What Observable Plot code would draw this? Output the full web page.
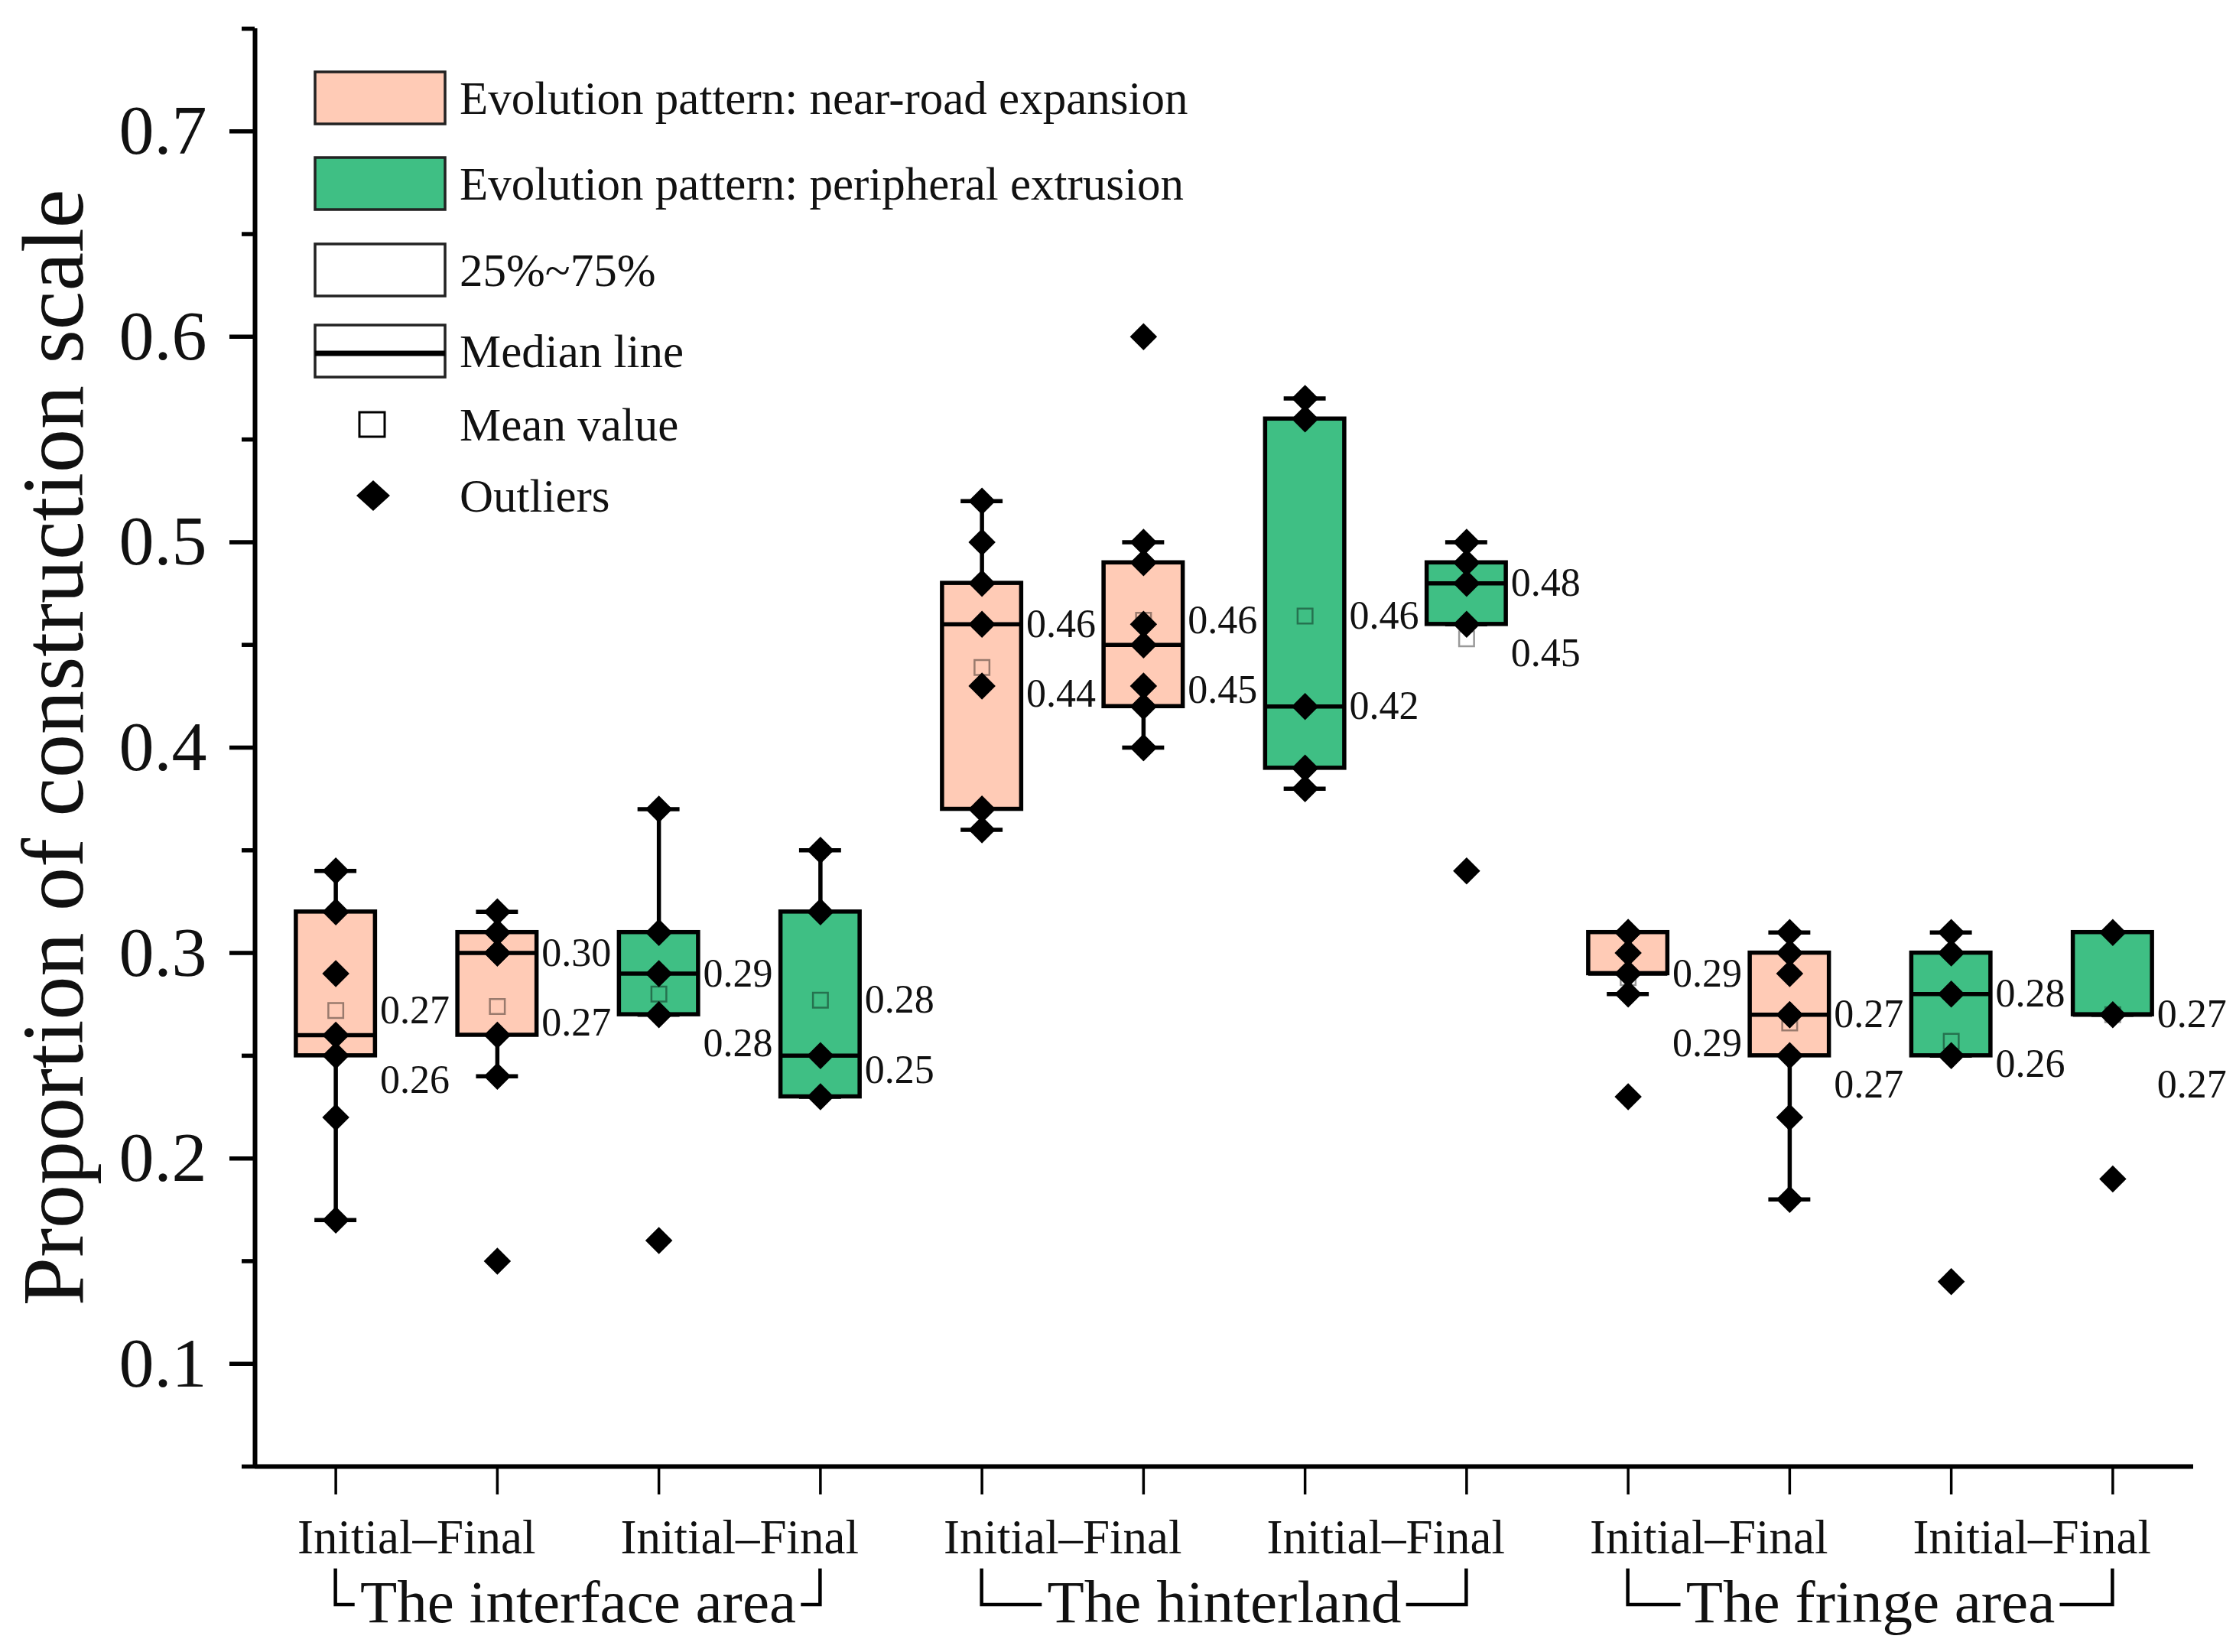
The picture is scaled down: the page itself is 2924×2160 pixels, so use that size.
<!DOCTYPE html>
<html>
<head>
<meta charset="utf-8">
<script src="https://cdn.jsdelivr.net/npm/d3@7"></script>
<script src="https://cdn.jsdelivr.net/npm/@observablehq/plot@0.6"></script>
<style>
  html, body { margin: 0; padding: 0; background: #ffffff; }
  svg { display: block; }
</style>
</head>
<body>
<div id="chart"></div>
<script>
// ---------------- data ----------------
const areaNames = ["The interface area", "The hinterland", "The fringe area"];
const patternNames = ["Evolution pattern: near-road expansion", "Evolution pattern: peripheral extrusion"];
const stageLabel = "Initial\u2013Final";
const boxArea    = [0, 0, 0, 0, 1, 1, 1, 1, 2, 2, 2, 2];
const boxPattern = [0, 0, 1, 1, 0, 0, 1, 1, 0, 0, 1, 1];
const boxStage   = ["Initial", "Final", "Initial", "Final", "Initial", "Final", "Initial", "Final", "Initial", "Final", "Initial", "Final"];

const q1Values      = [0.25, 0.26, 0.27, 0.23, 0.37, 0.42, 0.39, 0.46, 0.29, 0.25, 0.25, 0.27];
const medianValues  = [0.26, 0.30, 0.29, 0.25, 0.46, 0.45, 0.42, 0.48, 0.29, 0.27, 0.28, 0.27];
const q3Values      = [0.32, 0.31, 0.31, 0.32, 0.48, 0.49, 0.56, 0.49, 0.31, 0.30, 0.30, 0.31];
const whiskerLow    = [0.17, 0.24, 0.27, 0.23, 0.36, 0.40, 0.38, 0.46, 0.28, 0.18, 0.25, 0.27];
const whiskerHigh   = [0.34, 0.32, 0.37, 0.35, 0.52, 0.50, 0.57, 0.50, 0.31, 0.31, 0.31, 0.31];
const meanValues    = [0.272, 0.274, 0.280, 0.277, 0.439, 0.462, 0.464, 0.453, 0.288, 0.266, 0.257, 0.270];

const pointValues = [
  [0.34, 0.32, 0.29, 0.26, 0.25, 0.22, 0.17],
  [0.32, 0.31, 0.30, 0.30, 0.26, 0.24, 0.15],
  [0.37, 0.31, 0.29, 0.27, 0.16],
  [0.35, 0.32, 0.25, 0.23],
  [0.52, 0.50, 0.48, 0.46, 0.43, 0.37, 0.37, 0.36],
  [0.60, 0.50, 0.49, 0.46, 0.45, 0.43, 0.42, 0.40, 0.40],
  [0.57, 0.56, 0.42, 0.39, 0.38],
  [0.50, 0.49, 0.48, 0.46, 0.34],
  [0.31, 0.31, 0.30, 0.29, 0.29, 0.28, 0.23],
  [0.31, 0.30, 0.29, 0.27, 0.27, 0.25, 0.22, 0.18],
  [0.31, 0.30, 0.28, 0.25, 0.14],
  [0.31, 0.27, 0.19]
];

const yMajorTicks = [0.1, 0.2, 0.3, 0.4, 0.5, 0.6, 0.7];
const yMinorTicks = [0.05, 0.15, 0.25, 0.35, 0.45, 0.55, 0.65, 0.75];
const yLabel = "Proportion of construction scale";
const legendLabels = ["25%~75%", "Median line", "Mean value", "Outliers"];

// ---------------- styling ----------------
const W = 2924, H = 2160;
const serif = "'Liberation Serif', 'Times New Roman', Times, serif";
const fills = ["#ffcbb6", "#3fbf84"];
const HW = 0.245;   // half box width (x units)
const CAP = 0.13;   // half cap width
const LW = 5.5;

// ---------------- derived tables ----------------
const boxes = q1Values.map((q1, i) => ({
  pos: i + 1,
  pattern: patternNames[boxPattern[i]],
  stage: boxStage[i],
  q1, q3: q3Values[i], median: medianValues[i], mean: meanValues[i],
  lo: whiskerLow[i], hi: whiskerHigh[i]
}));
const points = boxes.flatMap((b, i) => pointValues[i].map(v => ({pos: b.pos, v})));

const fmt = d3.format(".2f");
const labelRows = boxes.flatMap(b => {
  const up = Math.max(b.mean, b.median);
  const low = Math.min(b.mean, b.median);
  const lowY = Math.min(low, up - 0.034);
  return [
    {pos: b.pos, y: up, text: fmt(up)},
    {pos: b.pos, y: lowY, text: fmt(low)}
  ];
});

const stagePairs = d3.range(6).map(k => ({pos: 2 * k + 1.5, text: stageLabel}));
const areaRows = areaNames.map((name, k) => ({name, from: 4 * k + 1, to: 4 * k + 4, mid: 4 * k + 2.5}));

// text measurement for bracket gaps
const ctx = document.createElement("canvas").getContext("2d");
const AREA_FS = 79;
ctx.font = `${AREA_FS}px "Liberation Serif"`;
areaRows.forEach(r => { r.w = ctx.measureText(r.name).width; });

// ---------------- custom pieces ----------------
function bracketMark(index, scales, values, dims) {
  const x = scales.x;
  const base = dims.height - dims.marginBottom;
  const yTop = base + 136, yBot = base + 181;
  const g = d3.create("svg:g")
    .attr("fill", "none").attr("stroke", "black").attr("stroke-width", 4.5)
    .attr("stroke-linecap", "square");
  for (const r of areaRows) {
    const xl = x(r.from), xr = x(r.to), xm = x(r.mid);
    const gap = 9;
    g.append("path").attr("d", `M${xl},${yTop}V${yBot}H${xm - r.w / 2 - gap}`);
    g.append("path").attr("d", `M${xr},${yTop}V${yBot}H${xm + r.w / 2 + gap}`);
  }
  return g.node();
}

function legendMark(index, scales, values, dims) {
  const g = d3.create("svg:g");
  const sx = 412, sw = 170, sh = 68, tx = 601;
  const items = [
    {type: "fill", color: fills[0], cy: 128, label: patternNames[0]},
    {type: "fill", color: fills[1], cy: 240, label: patternNames[1]},
    {type: "box", cy: 353, label: legendLabels[0]},
    {type: "median", cy: 459, label: legendLabels[1]},
    {type: "mean", cy: 555, label: legendLabels[2]},
    {type: "point", cy: 648, label: legendLabels[3]}
  ];
  for (const it of items) {
    if (it.type === "fill" || it.type === "box" || it.type === "median") {
      g.append("rect").attr("x", sx).attr("y", it.cy - sh / 2).attr("width", sw).attr("height", sh)
        .attr("fill", it.type === "fill" ? it.color : "white")
        .attr("stroke", "#222").attr("stroke-width", 3.5);
      if (it.type === "median") {
        g.append("line").attr("x1", sx).attr("x2", sx + sw).attr("y1", it.cy + 3).attr("y2", it.cy + 3)
          .attr("stroke", "black").attr("stroke-width", 7);
      }
    } else if (it.type === "mean") {
      g.append("rect").attr("x", 470).attr("y", it.cy - 16).attr("width", 33).attr("height", 32)
        .attr("fill", "white").attr("stroke", "black").attr("stroke-width", 3);
    } else {
      const cx = 488, cy = it.cy;
      g.append("path").attr("d", `M${cx},${cy - 20}L${cx + 22},${cy}L${cx},${cy + 20}L${cx - 22},${cy}Z`)
        .attr("fill", "black");
    }
    g.append("text").attr("x", tx).attr("y", it.cy).attr("dy", "0.34em")
      .attr("text-anchor", "start")
      .attr("font-family", serif).attr("font-size", 61).attr("fill", "#111")
      .text(it.label);
  }
  return g.node();
}

// ---------------- plot ----------------
const chart = Plot.plot({
  width: W,
  height: H,
  marginLeft: 333,
  marginRight: 56,
  marginTop: 37,
  marginBottom: 243,
  style: {fontFamily: serif, background: "white", color: "black", overflow: "visible"},
  x: {domain: [0.5, 12.5], axis: null},
  y: {domain: [0.05, 0.75], axis: null, label: null},
  color: {domain: patternNames, range: fills},
  marks: [
    // axes
    Plot.axisY(yMinorTicks, {tickSize: 17, strokeWidth: 5.5, tickFormat: () => "", label: null}),
    Plot.axisY(yMajorTicks, {tickSize: 33, tickPadding: 30, strokeWidth: 5.5, fontSize: 92,
      tickFormat: d3.format(".1f"), label: null, fill: "#111"}),
    Plot.axisX(d3.range(1, 13), {tickSize: 37, strokeWidth: 3.5, tickFormat: () => "", label: null}),
    Plot.ruleX([0.5], {y1: 0.05, y2: 0.75, strokeWidth: 6}),
    Plot.ruleY([0.05], {x1: 0.5, x2: 12.5, strokeWidth: 6}),
    // y label
    Plot.text([yLabel], {text: d => d, frameAnchor: "left", textAnchor: "middle", rotate: -90, dx: -262,
      fontSize: 114, lineAnchor: "middle", fill: "#111"}),
    // whiskers
    Plot.ruleX(boxes, {x: "pos", y1: "lo", y2: "q1", strokeWidth: LW}),
    Plot.ruleX(boxes, {x: "pos", y1: "q3", y2: "hi", strokeWidth: LW}),
    Plot.ruleY(boxes, {y: "lo", x1: d => d.pos - CAP, x2: d => d.pos + CAP, strokeWidth: LW}),
    Plot.ruleY(boxes, {y: "hi", x1: d => d.pos - CAP, x2: d => d.pos + CAP, strokeWidth: LW}),
    // boxes
    Plot.rect(boxes, {x1: d => d.pos - HW, x2: d => d.pos + HW, y1: "q1", y2: "q3",
      fill: "pattern", stroke: "black", strokeWidth: LW}),
    Plot.ruleY(boxes, {y: "median", x1: d => d.pos - HW, x2: d => d.pos + HW, strokeWidth: LW}),
    // mean squares
    Plot.dot(boxes, {x: "pos", y: "mean", symbol: "square", r: 11, fill: "none",
      stroke: "black", strokeOpacity: 0.4, strokeWidth: 2.5}),
    // data points
    Plot.dot(points, {x: "pos", y: "v", symbol: "diamond2", r: 16, fill: "black", stroke: "none"}),
    // value labels
    Plot.text(labelRows, {x: d => d.pos + HW, y: "y", text: "text", textAnchor: "start", dx: 6,
      fontSize: 52, lineAnchor: "middle", fill: "#111"}),
    // stage labels
    Plot.text(stagePairs, {x: "pos", text: "text", frameAnchor: "bottom", dy: 113,
      lineAnchor: "bottom", fontSize: 63, fill: "#111"}),
    // area labels
    Plot.text(areaRows, {x: "mid", text: "name", frameAnchor: "bottom", dy: 203,
      lineAnchor: "bottom", fontSize: AREA_FS, fill: "#111"}),
    bracketMark,
    legendMark
  ]
});

document.getElementById("chart").appendChild(chart);
</script>
</body>
</html>
